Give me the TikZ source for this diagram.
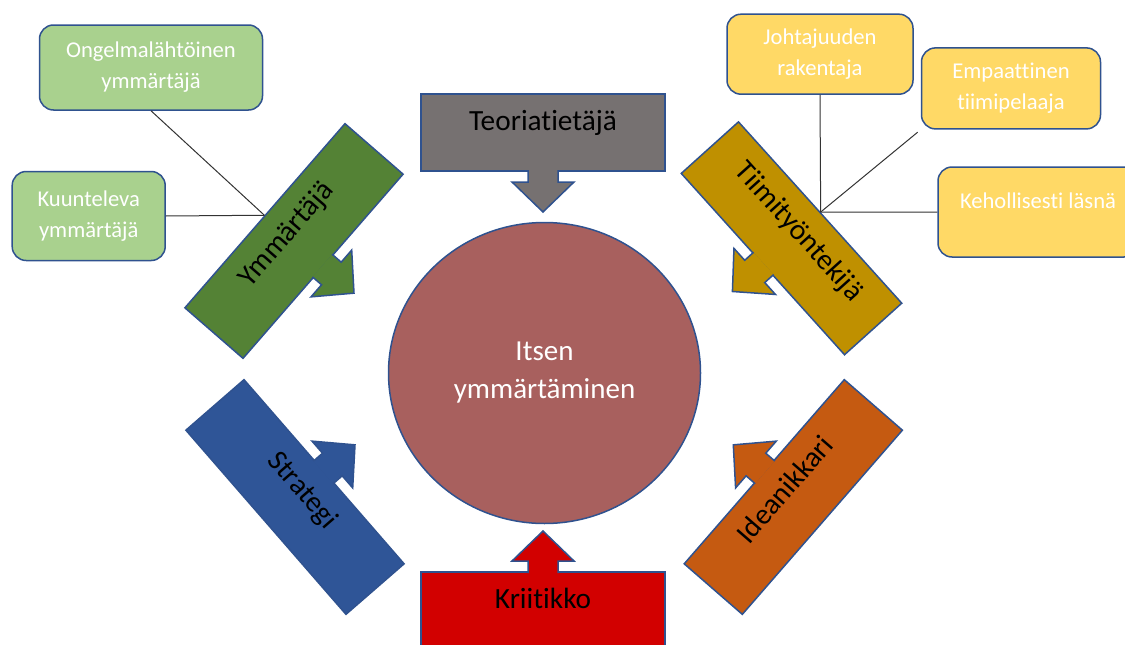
\documentclass[tikz,border=0pt]{standalone}
\usepackage{fontspec}
\setmainfont{Carlito}[Ligatures=NoCommon]
\usetikzlibrary{positioning}
\usetikzlibrary{shapes.geometric,calc}

\definecolor{edgeblue}{HTML}{2F528F}
\definecolor{teoriagray}{HTML}{767171}
\definecolor{ymmgreen}{HTML}{548235}
\definecolor{tiimigold}{HTML}{BF9000}
\definecolor{strategiblue}{HTML}{2F5597}
\definecolor{ideaorange}{HTML}{C55A11}
\definecolor{kriitred}{HTML}{D20000}
\definecolor{itsered}{HTML}{A8605E}
\definecolor{lightgreen}{HTML}{A9D18E}
\definecolor{lightyellow}{HTML}{FFD966}

\tikzset{
  callout/.style={draw=edgeblue, line width=1.5pt,
    minimum width=244pt, minimum height=77pt, inner sep=0pt,
    font=\fontsize{29.3}{34}\selectfont, text height=18pt, text depth=21.6pt},
  rolebox/.style={draw=edgeblue, line width=1.5pt, rounded corners=14pt,
    text=white, align=center, font=\fontsize{22.6}{31}\selectfont},
  hubline/.style={draw=black!80, line width=1pt}
}

% arrow of a callout: node, angle, direction (1 down, -1 up), colour
\newcommand*{\CalloutArrow}[4]{%
  \begin{scope}[shift={(#1.center)}, rotate=#2, yscale=#3]
    \filldraw[fill=#4, draw=edgeblue, line width=1.5pt]
      (-15,37.5) -- (-15,49.5) -- (-31,49.5) -- (0,79.5) -- (31,49.5) -- (15,49.5) -- (15,37.5);
  \end{scope}}

\begin{document}
\begin{tikzpicture}[x=1pt, y=-1pt]
\useasboundingbox (0,0) rectangle (1125,645);
\clip (0,0) rectangle (1125,645);

% Centre
\node[ellipse, draw=edgeblue, line width=1.5pt, fill=itsered,
    minimum width=312pt, minimum height=301pt,
    text=white, align=center, font=\fontsize{29}{38}\selectfont
] (itse) at (544.5,373) {Itsen\\ymmärtäminen};

% Callouts round the centre
\node[callout, fill=teoriagray] (teoria) at (543,132.5) {Teoriatietäjä};
\CalloutArrow{teoria}{0}{1}{teoriagray}

\node[callout, fill=ymmgreen, rotate=49] (ymmartaja) at (294,241) {Ymmärtäjä};
\CalloutArrow{ymmartaja}{49}{1}{ymmgreen}

\node[callout, fill=tiimigold, rotate=-48] (tiimi) at (791.5,238.3) {Tiimityöntekijä};
\CalloutArrow{tiimi}{-48}{1}{tiimigold}

\node[callout, fill=strategiblue, rotate=-49] (strategi) at (295,497) {Strategi};
\CalloutArrow{strategi}{-49}{-1}{strategiblue}

\node[callout, fill=ideaorange, rotate=49] (idea) at (793.3,497) {Ideanikkari};
\CalloutArrow{idea}{49}{-1}{ideaorange}

\node[callout, fill=kriitred] (kriitikko) at (543,610.5) {Kriitikko};
\CalloutArrow{kriitikko}{0}{-1}{kriitred}

% Ymmärtäjä types
\node[rolebox, fill=lightgreen,
    minimum width=223pt, minimum height=85pt
] (ongelma) at (151,67.5) {Ongelmalähtöinen\\ymmärtäjä};
\node[rolebox, fill=lightgreen,
    minimum width=153pt, minimum height=89pt
] (kuuntelu) at (88.7,216) {Kuunteleva\\ymmärtäjä};

\draw[hubline] (ongelma.south) -- (ymmartaja.north);
\draw[hubline] (kuuntelu.east) -- (ymmartaja.north);

% Tiimityöntekijä types
\node[rolebox, fill=lightyellow,
    minimum width=186pt, minimum height=80pt
] (johtajuus) at (820,54.2) {Johtajuuden\\rakentaja};
\node[rolebox, fill=lightyellow,
    minimum width=179pt, minimum height=81pt
] (empatia) at (1011,88.4) {Empaattinen\\tiimipelaaja};
\node[rolebox, fill=lightyellow,
    minimum width=200pt, minimum height=90pt,
    text height=15pt, text depth=22.4pt
] (keho) at (1038,212) {Kehollisesti läsnä};

\draw[hubline] (johtajuus.south) -- (tiimi.north);
\draw[hubline, shorten <=4pt] (empatia.south west) -- (tiimi.north);
\draw[hubline] (keho.west) -- (tiimi.north);

\end{tikzpicture}
\end{document}
